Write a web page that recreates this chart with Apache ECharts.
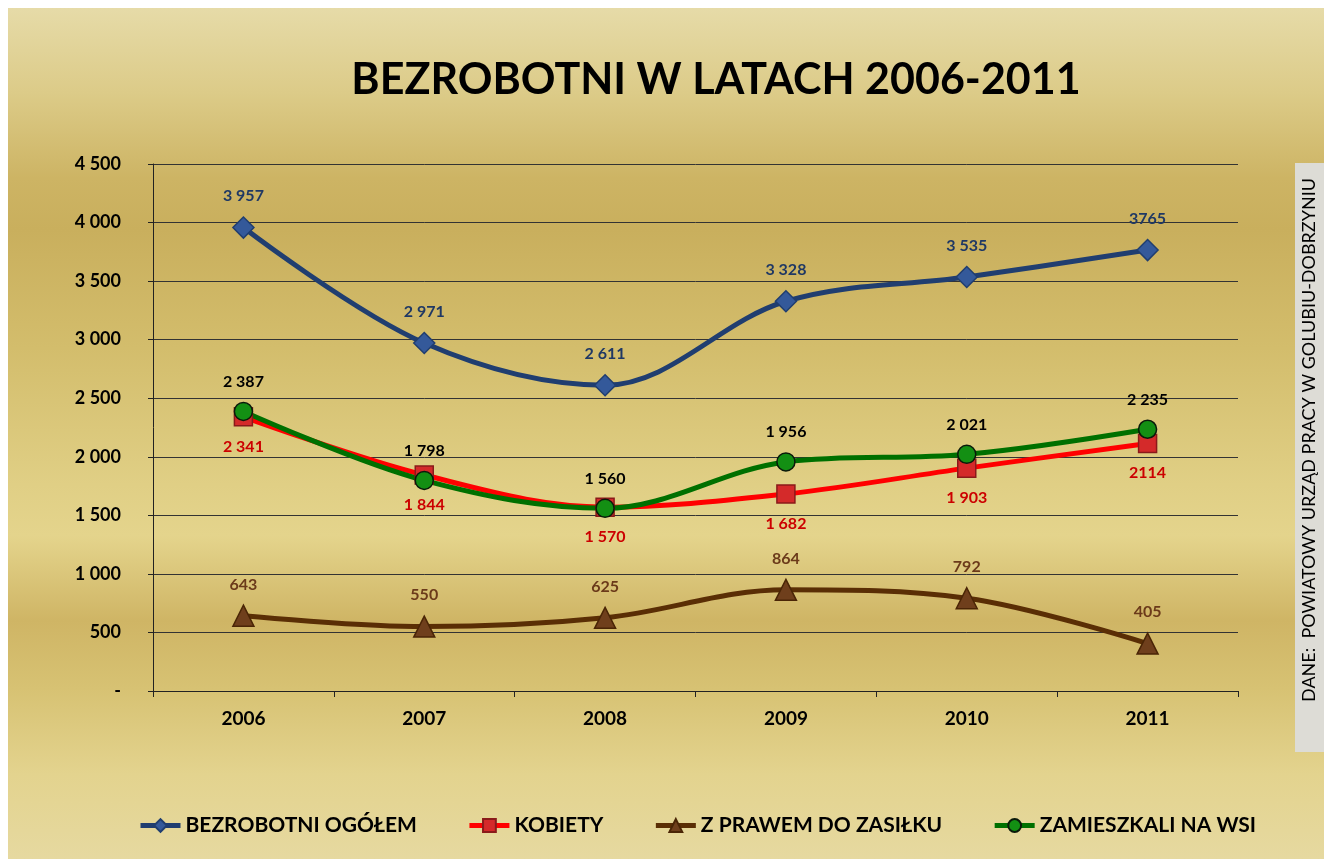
<!DOCTYPE html>
<html>
<head>
<meta charset="utf-8">
<script src="https://cdn.jsdelivr.net/npm/echarts@6/dist/echarts.min.js"></script>
<style>
    html, body { margin: 0; padding: 0; background: #fff; }
    #chart {
        position: absolute; left: 8px; top: 8px; width: 1316px; height: 851px;
        background: linear-gradient(to bottom, #e6dba8 0%, #dccb88 10%, #cdb464 20%, #c9af5d 26%, #d3bd6c 40%, #e0cf85 56%, #e4d48c 62%, #cfb565 72%, #d7c273 80%, #e3d38e 90%, #e6d9a0 100%);
    }
</style>
</head>
<body>
<div id="chart"></div>
<script>
var years = ['2006', '2007', '2008', '2009', '2010', '2011'];
var ogolem = [3957, 2971, 2611, 3328, 3535, 3765];
var kobiety = [2341, 1844, 1570, 1682, 1903, 2114];
var zasilek = [643, 550, 625, 864, 792, 405];
var wies = [2387, 1798, 1560, 1956, 2021, 2235];
var seriesNames = ['BEZROBOTNI OGÓŁEM', 'KOBIETY', 'Z PRAWEM DO ZASIŁKU', 'ZAMIESZKALI NA WSI'];
var yTicks = [0, 500, 1000, 1500, 2000, 2500, 3000, 3500, 4000, 4500];
// wartości wpisane w oryginale bez spacji
var bezSpacji = [3765, 2114];

var fmt = function (v) {
    if (v === 0) return '-';
    if (bezSpacji.indexOf(v) >= 0) return String(v);
    return String(v).replace(/\B(?=(\d{3})+(?!\d))/g, ' ');
};

var FONT = 'Lato, "Open Sans", sans-serif';

var myChart = echarts.init(document.getElementById('chart'));

var mkSeries = function (name, data, lineColor, symbol, symSize, fill, border, labelColor, labelPos) {
    return {
        name: name,
        type: 'line',
        data: data,
        smooth: 0.35,
        symbol: symbol,
        symbolSize: symSize,
        lineStyle: { width: 5, color: lineColor },
        itemStyle: { color: fill, borderColor: border, borderWidth: 1.5 },
        label: {
            show: true,
            position: labelPos,
            distance: 12,
            color: labelColor,
            fontFamily: FONT,
            fontWeight: 'bold',
            fontSize: 16,
            formatter: function (p) { return fmt(p.value); }
        },
        z: 3
    };
};

var options = {
    textStyle: { fontFamily: FONT },
    title: {
        text: 'BEZROBOTNI W LATACH 2006-2011',
        left: 703,
        top: 46,
        textAlign: 'center',
        textStyle: { fontFamily: FONT, fontSize: 43, fontWeight: 'bold', color: '#000' }
    },
    legend: {
        data: seriesNames,
        bottom: 18,
        left: 125,
        itemWidth: 40,
        itemHeight: 16,
        itemGap: 50,
        lineStyle: { width: 5 },
        textStyle: { fontFamily: FONT, fontSize: 21, fontWeight: 'bold', color: '#000' }
    },
    grid: { left: 145, right: 86, top: 156, bottom: 168 },
    xAxis: {
        type: 'category',
        data: years,
        boundaryGap: true,
        axisLine: { lineStyle: { color: '#222', width: 1 } },
        axisTick: { show: true, length: 6, lineStyle: { color: '#222' } },
        axisLabel: { margin: 18, color: '#000', fontFamily: FONT, fontSize: 19, fontWeight: 'bold' }
    },
    yAxis: {
        type: 'value',
        min: yTicks[0],
        max: yTicks[yTicks.length - 1],
        interval: 500,
        axisLine: { show: true, lineStyle: { color: '#222', width: 1 } },
        axisTick: { show: true, length: 5, lineStyle: { color: '#222' } },
        splitLine: { lineStyle: { color: '#333', width: 1 } },
        axisLabel: {
            margin: 32, color: '#000', fontFamily: FONT, fontSize: 18, fontWeight: 'bold',
            formatter: fmt
        }
    },
    graphic: [
        {
            type: 'rect',
            shape: { x: 1287, y: 155, width: 29, height: 589 },
            style: { fill: '#dddcd6' }
        },
        {
            type: 'text',
            x: 1301, y: 432,
            rotation: Math.PI / 2,
            style: {
                text: 'DANE:  POWIATOWY URZĄD PRACY W GOLUBIU-DOBRZYNIU',
                fill: '#000',
                font: '18px ' + FONT,
                align: 'center',
                verticalAlign: 'middle'
            }
        }
    ],
    series: [
        mkSeries(seriesNames[0], ogolem, '#203e70', 'diamond', 21, '#34599a', '#203e70', '#1f3864', 'top'),
        mkSeries(seriesNames[1], kobiety, '#ff0000', 'rect', 18, '#d42a2a', '#8a1a1a', '#cc0000', 'bottom'),
        mkSeries(seriesNames[2], zasilek, '#5a2e05', 'triangle', 21, '#6f3f1c', '#4a2506', '#6b3a1a', 'top'),
        mkSeries(seriesNames[3], wies, '#007000', 'circle', 18, '#138f13', '#0a1a0a', '#000', 'top')
    ]
};

myChart.setOption(options);
</script>
</body>
</html>
